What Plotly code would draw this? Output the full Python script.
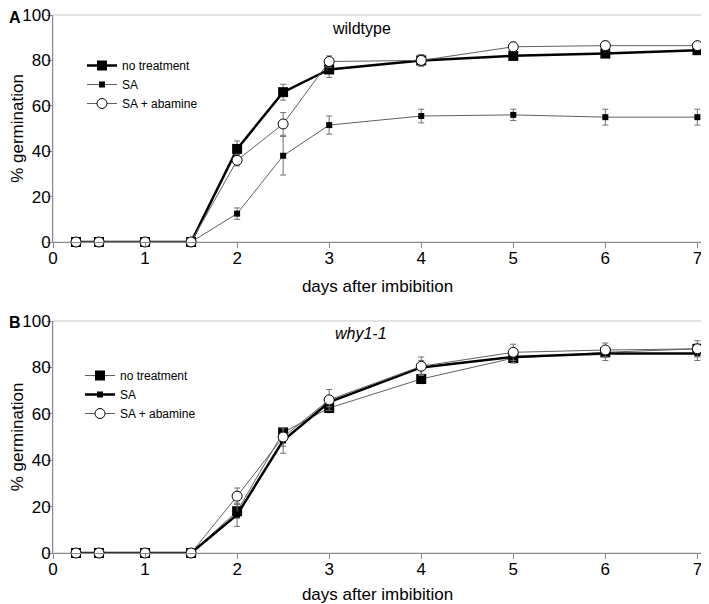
import plotly.graph_objects as go
from plotly.subplots import make_subplots

# days after imbibition
days = [0.25, 0.5, 1, 1.5, 2, 2.5, 3, 4, 5, 6, 7]

# panel A: wildtype
wt_none = [0, 0, 0, 0, 41, 66, 76, 80, 82, 83, 84.5]
wt_none_err = [0, 0, 0, 0, 3.5, 3.5, 3.5, 2.5, 2, 1.5, 1.5]
wt_sa = [0, 0, 0, 0, 12.5, 38, 51.5, 55.5, 56, 55, 55]
wt_sa_err = [0, 0, 0, 0, 2.5, 8.5, 4, 3, 2.5, 3.5, 3.5]
wt_aba = [0, 0, 0, 0, 36, 52, 79.5, 80, 86, 86.5, 86.5]
wt_aba_err = [0, 0, 0, 0, 2.5, 5, 2.5, 2.5, 2, 2, 1.5]

# panel B: why1-1
mut_none = [0, 0, 0, 0, 18, 52, 62.5, 75, 84, 86.5, 88]
mut_none_err = [0, 0, 0, 0, 3, 2, 2, 2, 2, 2, 2]
mut_sa = [0, 0, 0, 0, 16.5, 48.5, 65, 80, 84.5, 86, 86]
mut_sa_err = [0, 0, 0, 0, 5, 5.5, 2, 3, 2.5, 3, 3]
mut_aba = [0, 0, 0, 0, 24.5, 50, 66, 80.5, 86.5, 87.5, 88]
mut_aba_err = [0, 0, 0, 0, 3.5, 4, 4.5, 4, 3.5, 3, 3.5]

series_names = ["no treatment", "SA", "SA + abamine"]
x_ticks = [0, 1, 2, 3, 4, 5, 6, 7]
y_ticks = [0, 20, 40, 60, 80, 100]

# the page body has an 8px margin, so the figure is drawn 8px in from the window corner
PAGE = 8
W, H = 709 - PAGE, 604 - PAGE
M_L, M_R, M_T, M_B = 53 - PAGE, W - (702 - PAGE), 15 - PAGE, H - (553 - PAGE)

FONT = "Liberation Sans, Arial, sans-serif"
THICK = dict(color="black", width=2.5)
THIN = dict(color="#606060", width=1)
ERR = dict(type="data", color="#707070", thickness=1, width=3)


def px_x(px):
    """Window pixel column -> paper x (relative to plot area)."""
    return (px - PAGE - M_L) / (W - M_L - M_R)


def px_y(py):
    """Window pixel row -> paper y (relative to plot area)."""
    return (H - M_B - (py - PAGE)) / (H - M_T - M_B)


def _marker(kind):
    if kind == "big":
        return dict(symbol="square", size=10, color="black")
    if kind == "small":
        return dict(symbol="square", size=6, color="black")
    return dict(symbol="circle", size=10, color="white", line=dict(color="black", width=1))


fig = make_subplots(rows=2, cols=1)

panels = [
    (1, "legend", [(wt_none, wt_none_err, THICK, "big"),
                   (wt_sa, wt_sa_err, THIN, "small"),
                   (wt_aba, wt_aba_err, THIN, "circle")]),
    (2, "legend2", [(mut_none, mut_none_err, THIN, "big"),
                    (mut_sa, mut_sa_err, THICK, "small"),
                    (mut_aba, mut_aba_err, THIN, "circle")]),
]

for row, leg, series in panels:
    for name, (y, err, line, kind) in zip(series_names, series):
        fig.add_trace(
            go.Scatter(
                x=days, y=y, name=name, mode="lines+markers",
                line=line, marker=_marker(kind),
                error_y=dict(array=err, **ERR),
                cliponaxis=False, legend=leg,
            ),
            row=row, col=1,
        )

axis_common = dict(
    showgrid=False, zeroline=False, showline=True, linecolor="#8a8a8a", linewidth=1,
    ticks="outside", ticklen=5, tickcolor="#8a8a8a", automargin=False,
    ticklabeloverflow="allow",
    tickfont=dict(family=FONT, size=17, color="black"),
)
fig.update_xaxes(range=[0, 7.05], tickvals=x_ticks, ticklabelstandoff=-4, **axis_common)
fig.update_yaxes(range=[0, 100], tickvals=y_ticks, ticklabelstandoff=-7, **axis_common)

title_font = dict(family=FONT, size=17, color="black")
for row in (1, 2):
    fig.update_xaxes(title=dict(text="days after imbibition", font=title_font, standoff=12),
                     row=row, col=1)
    fig.update_yaxes(title=dict(text="% germination", font=title_font, standoff=6),
                     row=row, col=1)

# panel geometry
fig.update_layout(
    xaxis=dict(domain=[0, 1]),
    xaxis2=dict(domain=[0, 1]),
    yaxis=dict(domain=[px_y(242), 1]),
    yaxis2=dict(domain=[0, px_y(321)]),
)

# light grey frame on top/right
for xr, yr in (("x domain", "y domain"), ("x2 domain", "y2 domain")):
    fig.add_shape(type="rect", xref=xr, yref=yr, x0=0, x1=1, y0=0, y1=1,
                  line=dict(color="#c8c8c8", width=1), layer="below")

label_font = dict(family=FONT, size=16, color="black")
for text, py in (("wildtype", 28), ("<i>why1-1</i>", 333)):
    fig.add_annotation(text=text, x=px_x(361), y=px_y(py), xref="paper", yref="paper",
                       xanchor="center", yanchor="middle", showarrow=False, font=label_font)
for letter, py in (("A", 17), ("B", 322)):
    fig.add_annotation(text=f"<b>{letter}</b>", x=px_x(PAGE - 1), y=px_y(py),
                       xref="paper", yref="paper", xanchor="left", yanchor="middle",
                       showarrow=False, font=dict(family=FONT, size=16, color="black"))

legend_style = dict(
    font=dict(family=FONT, size=12, color="black"),
    bgcolor="rgba(0,0,0,0)", borderwidth=0,
    xanchor="left", yanchor="top", itemwidth=30, tracegroupgap=0,
)
fig.update_layout(
    width=W, height=H,
    margin=dict(l=M_L, r=M_R, t=M_T, b=M_B, autoexpand=False),
    plot_bgcolor="white", paper_bgcolor="white",
    legend=dict(x=px_x(82), y=px_y(51), **legend_style),
    legend2=dict(x=px_x(80), y=px_y(361), **legend_style),
    showlegend=True,
)

fig.write_html("out.html")
